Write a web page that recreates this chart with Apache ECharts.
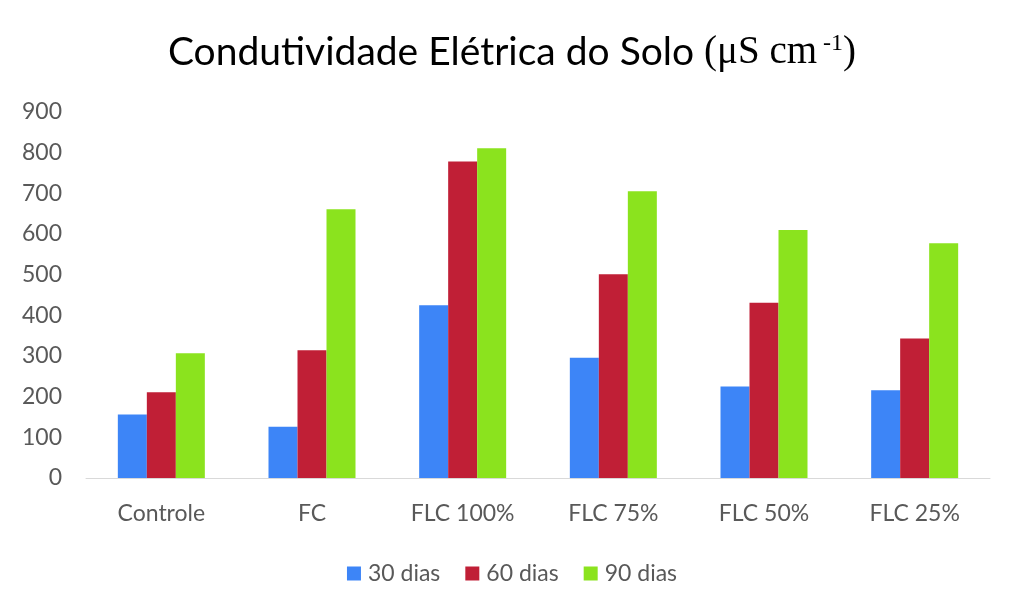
<!DOCTYPE html>
<html><head><meta charset="utf-8">
<script src="https://cdn.jsdelivr.net/npm/echarts@6/dist/echarts.min.js"></script>
<style>html,body{margin:0;padding:0;background:#fff}#c{width:1024px;height:616px}</style>
</head><body><div id="c"></div>
<script>
const categories = ['Controle', 'FC', 'FLC 100%', 'FLC 75%', 'FLC 50%', 'FLC 25%'];
const seriesNames = ['30 dias', '60 dias', '90 dias'];
const dias30 = [156, 126, 425, 296, 225, 216];
const dias60 = [211, 314, 778, 501, 431, 343];
const dias90 = [307, 661, 811, 705, 610, 577];
const yTicks = [0, 100, 200, 300, 400, 500, 600, 700, 800, 900];
const colors = ['#3d85f7', '#c01f36', '#8be31e'];

const font = 'Lato, "Open Sans", sans-serif';
const serif = '"Liberation Serif", "DejaVu Serif", serif';
const chart = echarts.init(document.getElementById('c'));
chart.setOption({
  animation: false,
  backgroundColor: '#fff',
  title: {
    text: '{a|Condutividade Elétrica do Solo }{b|(μS cm}{s| -1}{b|)}',
    left: 'center', top: 27,
    textStyle: {
      fontWeight: 'normal',
      rich: {
        a: { fontFamily: font, fontSize: 39, fontWeight: 'normal', color: '#000' },
        b: { fontFamily: serif, fontSize: 39, fontWeight: 'normal', color: '#000' },
        s: { fontFamily: serif, fontSize: 24, fontWeight: 'normal', color: '#000', verticalAlign: 'top', padding: [0, 0, 17, 0] }
      }
    }
  },
  grid: { left: 86, right: 34, top: 112, bottom: 138 },
  legend: {
    data: seriesNames, bottom: 26, left: 'center',
    itemWidth: 14, itemHeight: 14, itemGap: 25,
    icon: 'rect',
    textStyle: { fontFamily: font, fontSize: 23, color: '#595959', padding: [0, 0, 0, 2] }
  },
  xAxis: {
    type: 'category', data: categories,
    axisLine: { lineStyle: { color: '#d9d9d9', width: 1 } },
    axisTick: { show: false },
    axisLabel: { fontFamily: font, fontSize: 23, color: '#595959', margin: 24 }
  },
  yAxis: {
    type: 'value', min: yTicks[0], max: yTicks[yTicks.length - 1], interval: 100,
    axisLine: { show: false }, axisTick: { show: false },
    splitLine: { show: false },
    axisLabel: { fontFamily: font, fontSize: 23, color: '#595959', margin: 24 }
  },
  series: [dias30, dias60, dias90].map((d, i) => ({
    name: seriesNames[i], type: 'bar', data: d,
    barWidth: 29, barGap: '0%',
    itemStyle: { color: colors[i] }
  }))
});
</script></body></html>
